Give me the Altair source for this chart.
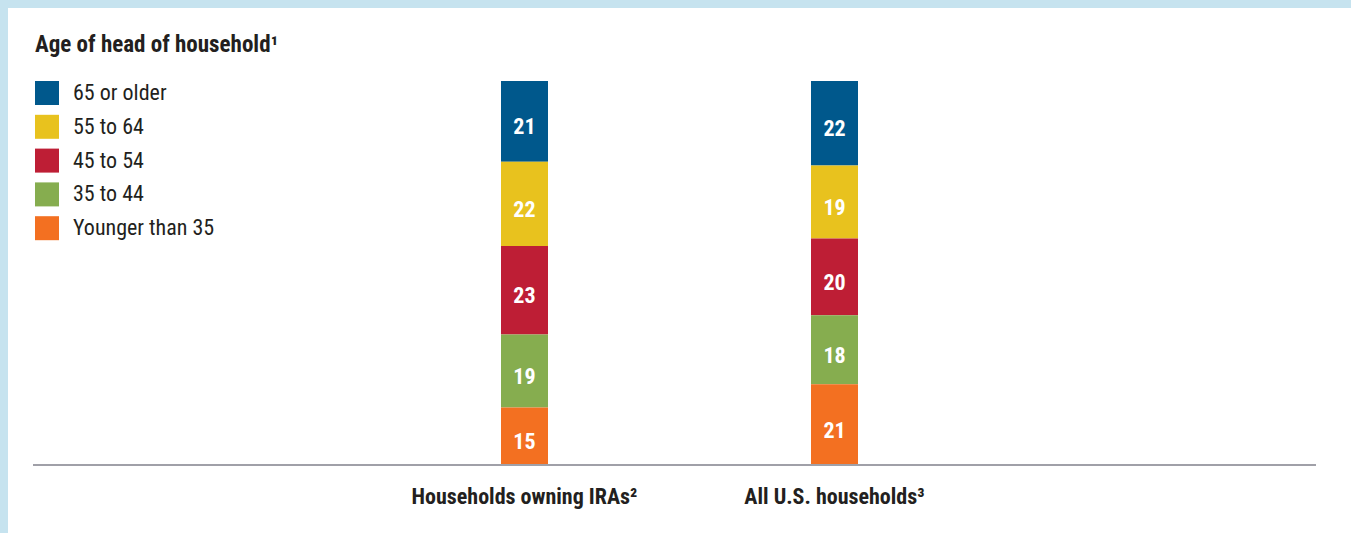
import altair as alt
import pandas as pd

groups = ["Households owning IRAs\u00b2", "All U.S. households\u00b3"]
ages = ["65 or older", "55 to 64", "45 to 54", "35 to 44", "Younger than 35"]
colors = ["#00588c", "#e8c21e", "#be1e35", "#86ad4f", "#f37021"]
ira_values = [21, 22, 23, 19, 15]
us_values = [22, 19, 20, 18, 21]

rows = []
for g, vals in zip(groups, [ira_values, us_values]):
    for i, (a, v) in enumerate(zip(ages, vals)):
        rows.append({"group": g, "age": a, "value": v, "rank": len(ages) - i})
df = pd.DataFrame(rows)

FONT = "Roboto Condensed, Roboto"
W, H = 1283, 384

base = alt.Chart(df).transform_stack(
    stack="value", groupby=["group"], sort=[alt.SortField("rank", order="ascending")], as_=["v0", "v1"]
).transform_calculate(mid="(datum.v0 + datum.v1) / 2")

xenc = alt.X(
    "group:N",
    sort=groups,
    scale=alt.Scale(paddingInner=0.8484, paddingOuter=0, range=[468, 825]),
    axis=alt.Axis(
        title=None, labelAngle=0, ticks=False, domain=False,
        labelFont=FONT, labelFontSize=22, labelFontWeight="bold", labelColor="#231f20",
        labelPadding=21, labelLimit=500,
    ),
)
yscale = alt.Scale(domain=[0, 100])

bars = base.mark_bar().encode(
    x=xenc,
    y=alt.Y("v0:Q", scale=yscale, axis=None),
    y2="v1:Q",
    color=alt.Color(
        "age:N",
        scale=alt.Scale(domain=ages, range=colors),
        legend=alt.Legend(
            title="Age of head of household\u00b9", orient="none", legendX=2, legendY=-47.5,
            symbolType="square", symbolSize=576, symbolStrokeWidth=0, symbolOpacity=1,
            labelFont=FONT, labelFontSize=22, labelColor="#231f20", labelOffset=14,
            rowPadding=9.8, titleFont=FONT, titleFontSize=23, titleFontWeight="bold",
            titleColor="#231f20", titlePadding=24.5, labelLimit=300, titleLimit=400,
        ),
    ),
)

labels = base.mark_text(
    color="white", font=FONT, fontSize=22, fontWeight="bold", baseline="middle", dy=6
).encode(x=xenc, y=alt.Y("mid:Q", scale=yscale, axis=None), text="value:Q")

baseline = alt.Chart(pd.DataFrame({"y": [0]})).mark_rule(color="#a0a0a8", strokeWidth=2).encode(
    x=alt.value(0), x2=alt.value(W), y=alt.Y("y:Q", scale=yscale, axis=None)
)

chart = (bars + labels + baseline).properties(
    width=W, height=H, background="white",
    autosize=alt.AutoSizeParams(type="none"),
    padding={"left": 25, "top": 73, "right": 35, "bottom": 68},
).configure_view(stroke=None)

chart.save("out.html", embed_options={"renderer": "svg", "actions": False})

with open("out.html", encoding="utf-8") as f:
    html = f.read()
html = html.replace(
    "<head>",
    "<head><style>html,body{background:#c6e3ef;overflow:hidden}body{margin:8px 0 0 8px}</style>",
    1,
)
with open("out.html", "w", encoding="utf-8") as f:
    f.write(html)
